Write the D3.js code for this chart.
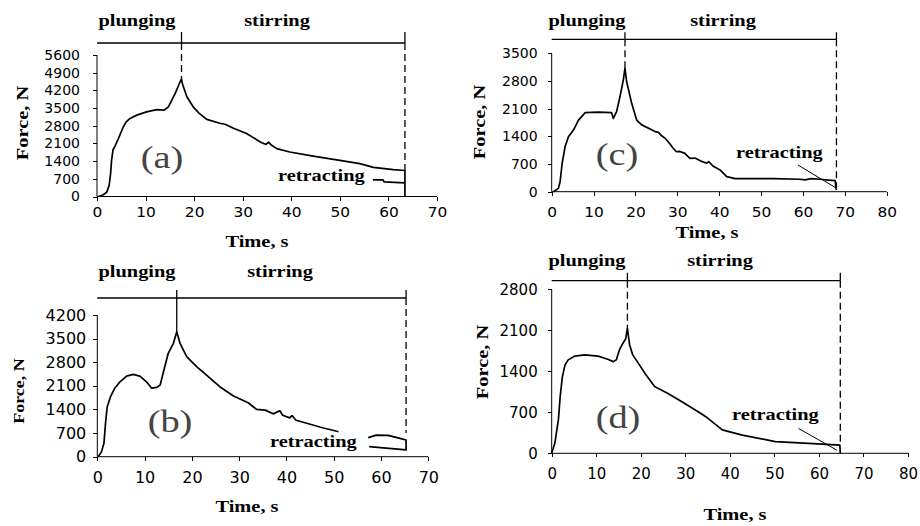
<!DOCTYPE html>
<html>
<head>
<meta charset="utf-8">
<style>
  body { margin: 0; background: #fff; }
  svg { display: block; }
  .curve { fill: none; stroke: #000; stroke-width: 1.7; stroke-linejoin: round; }
  .thin { fill: none; stroke: #000; stroke-width: 1; }
  .phase { stroke: #000; stroke-width: 1.3; fill: none; }
  .dash { stroke-dasharray: 7,4; }
  .axis line { stroke: #000; stroke-width: 1; shape-rendering: crispEdges; }
  .axis text { fill: #000; font-family: "DejaVu Sans", sans-serif; }
  .bold { font-family: "Liberation Serif", "Times New Roman", serif; font-weight: bold; fill: #000; }
  .tag { font-family: "Liberation Serif", "Times New Roman", serif; fill: #444; }
</style>
</head>
<body>
<svg width="920" height="526"></svg>
<script src="https://d3js.org/d3.v7.min.js"></script>
<script>

// force vs time, [t (s), F (N)]
var curveA = [
  [0.3,0],[1.2,60],[2,170],[2.5,440],[2.8,900],[3.0,1430],[3.3,1850],[3.6,1950],[4.4,2290],
  [5.4,2750],[6.0,2950],[6.8,3090],[8.2,3220],[10.2,3350],[12.3,3440],[13.8,3415],[14.7,3550],
  [16.1,4080],[17.2,4580],[17.4,4640],[17.6,4450],[18.5,3945],[19.8,3550],[21.0,3300],[22.6,3050],
  [25.3,2900],[26.5,2850],[28.1,2700],[30.8,2490],[32.0,2350],[33.6,2160],[34.8,2060],[35.3,2150],
  [35.8,2050],[37.0,1895],[39.7,1760],[44.5,1600],[50.0,1430],[54.1,1300],[56.9,1150],[61.0,1060],
  [63.4,1030],[63.4,0]
];
var retractA = [[56.8,660],[58.9,660],[59.1,580],[63.4,540]];

var curveB = [
  [0.2,0],[0.9,150],[1.4,400],[1.8,1090],[2.1,1480],[2.8,1780],[3.7,2030],[4.8,2220],[6.2,2390],
  [7.6,2440],[9.0,2390],[10.4,2220],[11.5,2030],[12.6,2055],[13.3,2125],[14.0,2520],[15.0,3065],
  [16.1,3360],[16.8,3705],[17.5,3360],[18.9,2965],[21.0,2670],[23.1,2420],[25.9,2075],[28.8,1800],
  [31.9,1600],[33.7,1400],[35.5,1380],[37.2,1270],[38.6,1360],[39.2,1230],[40.7,1150],[41.2,1220],
  [42.0,1080],[44.3,990],[47.8,850],[49.6,790],[51.0,740]
];
var retractB = [[57.3,565],[59.0,640],[61.5,630],[64.0,545],[65.3,495],[65.3,200],[57.5,300]];

var curveC = [
  [0.4,0],[1.6,85],[2.0,250],[2.5,720],[3.2,1140],[4.0,1390],[5.2,1560],[6.4,1810],[8.0,2000],
  [11.1,2010],[14.3,2000],[14.7,1855],[15.5,2025],[16.3,2400],[17.1,2825],[17.5,3120],[17.9,2780],
  [19.1,2235],[20.3,1810],[21.5,1690],[24.7,1520],[25.5,1500],[26.2,1420],[27.1,1350],[28.3,1200],
  [29.0,1100],[29.8,1010],[30.5,1020],[31.8,970],[33.0,845],[34.2,850],[35.5,780],[37.0,720],
  [37.5,760],[38.5,650],[40.2,550],[41.8,380],[43.8,330],[52.9,330],[59.3,315],[60.5,300],
  [62.0,330],[64.1,315],[66.1,295],[67.7,280],[67.9,85],[68.0,40]
];
var pointerC = [[58.8,675],[67.9,95]];

var curveD = [
  [0,0],[0.7,170],[1.5,570],[1.9,965],[2.4,1310],[3.0,1510],[3.7,1595],[5.2,1660],[7.4,1680],
  [10.4,1660],[12.6,1605],[13.8,1565],[14.5,1595],[15.2,1765],[16.0,1880],[16.6,1950],[17.0,2135],
  [17.5,1850],[18.2,1680],[19.7,1510],[21.2,1335],[23.1,1140],[26.0,1025],[29.8,855],[33.5,680],
  [34.6,625],[38.3,400],[42.8,310],[50.2,200],[57.7,170],[64.7,140],[64.8,0]
];
var pointerD = [[55.4,425],[64.0,55]];

// tick values
var xTicks70 = [0,10,20,30,40,50,60,70];
var xTicks80 = [0,10,20,30,40,50,60,70,80];
var yTicksA = [0,700,1400,2100,2800,3500,4200,4900,5600];
var yTicksB = [0,700,1400,2100,2800,3500,4200];
var yTicksC = [0,700,1400,2100,2800,3500];
var yTicksD = [0,700,1400,2100,2800];

// phase marks: [split time, force where split line stops, end time, force where end line stops]
var phaseA = [17.4, 4640, 63.4, 1030];
var phaseB = [16.8, 3705, 65.3, 700];
var phaseC = [17.5, 3120, 68.0, 90];
var phaseD = [17.0, 2135, 64.8, 140];

var panels = [
  { tag: "(a)", curve: curveA, extra: retractA, extraCls: "curve", xTicks: xTicks70, yTicks: yTicksA, phase: phaseA,
    box: [97, 437, 55, 196.5], tickFs: 14, xSx: 1.1, xPad: 7, yPad: 13, barUp: 12, barStub: 11, splitDash: true,
    plung: [137, 26], stir: [277, 26], tagPos: [162, 168], retr: [278, 181], time: [257, 247], force: [22, 123, 17] },
  { tag: "(b)", curve: curveB, extra: retractB, extraCls: "curve", xTicks: xTicks70, yTicks: yTicksB, phase: phaseB,
    box: [97.3, 428.3, 315, 456.7], tickFs: 16, xSx: 1, xPad: 11, yPad: 7, barUp: 17, barStub: 8, splitDash: false,
    plung: [137, 277], stir: [280, 277], tagPos: [170, 432], retr: [270, 447], time: [247, 512], force: [18, 391, 15] },
  { tag: "(c)", curve: curveC, extra: pointerC, extraCls: "thin", xTicks: xTicks80, yTicks: yTicksC, phase: phaseC,
    box: [551.7, 886.7, 53.3, 191.7], tickFs: 14, xSx: 1.1, xPad: 11, yPad: 10, barUp: 14, barStub: 7, splitDash: true,
    plung: [587, 26], stir: [723, 26], tagPos: [617, 165], retr: [736, 158], time: [707, 238], force: [479, 122, 17] },
  { tag: "(d)", curve: curveD, extra: pointerD, extraCls: "thin", xTicks: xTicks80, yTicks: yTicksD, phase: phaseD,
    box: [551.7, 908, 289.3, 453.3], tickFs: 15, xSx: 1, xPad: 11, yPad: 10, barUp: 8.6, barStub: 8, splitDash: true,
    plung: [587, 266], stir: [720, 266], tagPos: [618, 428], retr: [732, 420], time: [735, 520], force: [482, 362, 17] }
];

var svg = d3.select("svg");
var SX = 1.2; // the original figure is stretched sideways

function word(x, y, txt, cls, size, anchor, rot) {
  return svg.append("text")
    .attr("class", cls)
    .attr("transform", "translate(" + x + "," + y + ")" + (rot ? " rotate(-90)" : "") + " scale(" + SX + ",1)")
    .attr("text-anchor", anchor || "middle")
    .style("font-size", size + "px")
    .text(txt);
}

panels.forEach(function(p) {
  var x = d3.scaleLinear().domain([0, d3.max(p.xTicks)]).range([p.box[0], p.box[1]]);
  var y = d3.scaleLinear().domain([0, d3.max(p.yTicks)]).range([p.box[3], p.box[2]]);

  var gx = svg.append("g").attr("class", "axis")
    .attr("transform", "translate(0," + p.box[3] + ")")
    .call(d3.axisBottom(x).tickValues(p.xTicks).tickSize(4).tickSizeOuter(0).tickPadding(p.xPad).tickFormat(d3.format("d")));
  var gy = svg.append("g").attr("class", "axis")
    .attr("transform", "translate(" + p.box[0] + ",0)")
    .call(d3.axisLeft(y).tickValues(p.yTicks).tickSize(4).tickSizeOuter(0).tickPadding(p.yPad).tickFormat(d3.format("d")));
  gx.selectAll("text").style("font-size", p.tickFs + "px").attr("transform", "scale(" + p.xSx + ",1)");
  gy.selectAll("text").style("font-size", p.tickFs + "px");
  gx.select(".domain").remove();
  gy.select(".domain").remove();
  svg.append("line").attr("class", "thin")
    .attr("x1", p.box[0]).attr("x2", p.box[1]).attr("y1", p.box[3]).attr("y2", p.box[3]);
  svg.append("line").attr("class", "thin")
    .attr("x1", p.box[0]).attr("x2", p.box[0]).attr("y1", p.box[3]).attr("y2", p.box[2]);

  var line = d3.line().x(function(d) { return x(d[0]); }).y(function(d) { return y(d[1]); });

  svg.append("path").attr("class", "curve").attr("d", line(p.curve));
  svg.append("path").attr("class", p.extraCls).attr("d", line(p.extra));

  // phase bar above the plot
  var barY = p.box[2] - p.barUp;
  var ph = p.phase;
  svg.append("line").attr("class", "phase")
    .attr("x1", x(0)).attr("x2", x(ph[2])).attr("y1", barY).attr("y2", barY);
  [ph[0], ph[2]].forEach(function(t) {
    svg.append("line").attr("class", "phase")
      .attr("x1", x(t)).attr("x2", x(t)).attr("y1", barY - p.barStub).attr("y2", barY);
  });
  svg.append("line").attr("class", "phase" + (p.splitDash ? " dash" : ""))
    .attr("x1", x(ph[0])).attr("x2", x(ph[0])).attr("y1", barY).attr("y2", y(ph[1]));
  svg.append("line").attr("class", "phase dash")
    .attr("x1", x(ph[2])).attr("x2", x(ph[2])).attr("y1", barY).attr("y2", y(ph[3]));

  word(p.plung[0], p.plung[1], "plunging", "bold", 17);
  word(p.stir[0], p.stir[1], "stirring", "bold", 17);
  word(p.retr[0], p.retr[1], "retracting", "bold", 17, "start");
  word(p.tagPos[0], p.tagPos[1], p.tag, "tag", 32);
  word(p.time[0], p.time[1], "Time, s", "bold", 17);
  word(p.force[0] + 6, p.force[1], "Force, N", "bold", p.force[2], "middle", true);
});

</script>
</body>
</html>
